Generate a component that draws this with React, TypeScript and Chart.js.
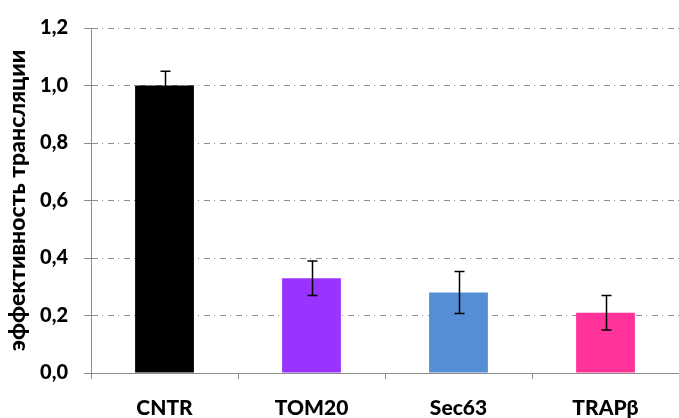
import React, { useEffect, useRef } from "react";
import { Chart, registerables } from "chart.js";

Chart.register(...registerables);

const categories = ["CNTR", "TOM20", "Sec63", "TRAPβ"];
const efficiency = [1.0, 0.33, 0.28, 0.21];
const errors = [0.05, 0.06, 0.073, 0.06];
const barColors = ["#000000", "#9933FF", "#558ED5", "#FF3399"];
const yMin = 0;
const yMax = 1.2;
const yStep = 0.2;
const yTitle = "эффективность трансляции";

const FONT = "Lato, 'Liberation Sans', sans-serif";
const WEIGHT = 900;
const GRID = "#8c8c8c";

// Draws vertical error bars with caps on top of each bar.
const errorBarPlugin = {
  id: "errorBars",
  afterDatasetsDraw(chart: any) {
    const { ctx, scales } = chart;
    const meta = chart.getDatasetMeta(0);
    const y = scales.y;
    ctx.save();
    ctx.strokeStyle = "#000000";
    ctx.lineWidth = 1.5;
    meta.data.forEach((bar: any, i: number) => {
      const v = efficiency[i];
      const e = errors[i];
      const x = Math.round(bar.x) + 0.5;
      const yTop = y.getPixelForValue(v + e);
      const yBot = y.getPixelForValue(v - e);
      const cap = 5;
      ctx.beginPath();
      ctx.moveTo(x, yTop);
      ctx.lineTo(x, yBot);
      ctx.moveTo(x - cap, yTop);
      ctx.lineTo(x + cap, yTop);
      ctx.moveTo(x - cap, yBot);
      ctx.lineTo(x + cap, yBot);
      ctx.stroke();
    });
    ctx.restore();
  },
};

export default function App() {
  const canvasRef = useRef<HTMLCanvasElement | null>(null);

  useEffect(() => {
    const canvas = canvasRef.current;
    if (!canvas) return;
    const chart = new Chart(canvas, {
      type: "bar",
      data: {
        labels: categories,
        datasets: [
          {
            data: efficiency,
            backgroundColor: barColors,
            borderWidth: 0,
            categoryPercentage: 1,
            barPercentage: 0.4,
          },
        ],
      },
      options: {
        responsive: false,
        animation: false,
        layout: { padding: { top: 26, right: -2, left: 0, bottom: 0 } },
        plugins: {
          legend: { display: false },
          tooltip: { enabled: false },
        },
        scales: {
          x: {
            offset: true,
            afterFit: (scale: any) => {
              scale.height = 45;
            },
            grid: {
              offset: true,
              drawOnChartArea: false,
              drawTicks: true,
              tickLength: 6,
              tickColor: GRID,
              color: GRID,
            },
            border: { color: GRID, width: 1 },
            ticks: {
              color: "#000000",
              padding: 17,
              font: { family: FONT, weight: WEIGHT, size: 21 },
            },
          },
          y: {
            min: yMin,
            max: yMax,
            afterFit: (scale: any) => {
              scale.width = 91;
            },
            grid: {
              color: GRID,
              lineWidth: 1,
              drawOnChartArea: true,
              tickLength: 7,
              tickColor: GRID,
              tickBorderDash: [],
            },
            border: { color: GRID, width: 1, dash: [6, 4, 1, 5] },
            ticks: {
              stepSize: yStep,
              color: "#000000",
              padding: 16,
              font: { family: FONT, weight: WEIGHT, size: 20 },
              callback: (v: any) => Number(v).toFixed(1).replace(".", ","),
            },
            title: {
              display: true,
              text: yTitle,
              color: "#000000",
              padding: { top: 4, bottom: 0 },
              font: { family: FONT, weight: WEIGHT, size: 23 },
            },
          },
        },
      },
      plugins: [errorBarPlugin],
    });
    return () => chart.destroy();
  }, []);

  return (
    <div style={{ position: "fixed", left: 0, top: 0, width: 679, height: 418, background: "#ffffff" }}>
      <canvas ref={canvasRef} width={679} height={418} style={{ display: "block" }} />
    </div>
  );
}
